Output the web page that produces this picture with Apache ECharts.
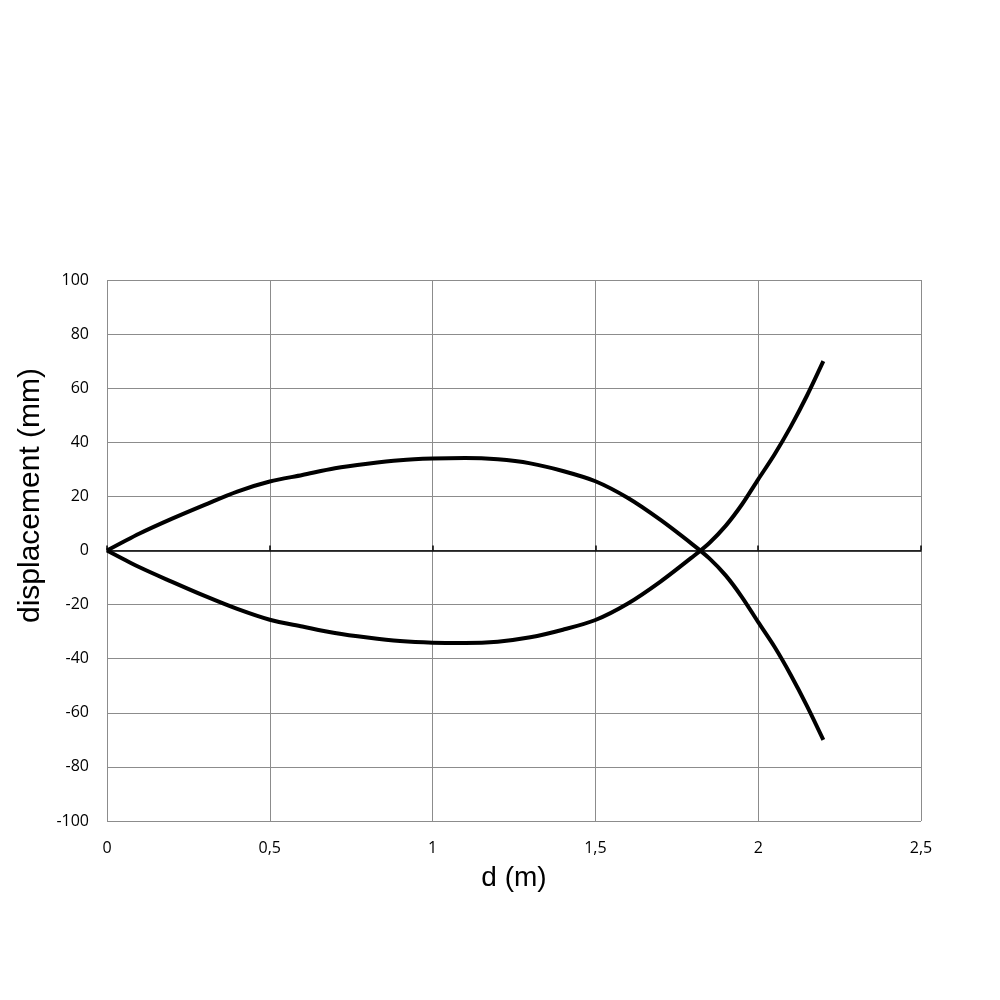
<!DOCTYPE html>
<html>
<head>
<meta charset="utf-8">
<script src="https://cdn.jsdelivr.net/npm/echarts@6/dist/echarts.min.js"></script>
<style>html,body{margin:0;padding:0;background:#fff}#c{width:1000px;height:1000px}</style>
</head>
<body>
<div id="c"></div>
<script>
var dValues = [0, 0.1, 0.2, 0.3, 0.4, 0.5, 0.6, 0.7, 0.8, 0.9, 1.0, 1.1, 1.2, 1.3, 1.4, 1.5, 1.6, 1.7, 1.8, 1.85, 1.9, 1.95, 2.0, 2.05, 2.1, 2.15, 2.2];
var upperCurve = [0, 6.3, 11.8, 16.9, 21.8, 25.5, 27.9, 30.4, 32.1, 33.4, 34.0, 34.2, 33.7, 32.2, 29.4, 25.6, 19.4, 11.3, 2.1, -2.9, -9.2, -17.2, -26.5, -35.6, -46.0, -57.5, -70];
var lowerCurve = [0, -6.2, -11.6, -16.8, -21.6, -25.6, -28.1, -30.5, -32.2, -33.5, -34.1, -34.2, -33.7, -32.1, -29.3, -25.7, -19.6, -11.5, -2.2, 2.8, 9.1, 17.0, 26.3, 35.5, 45.8, 57.3, 70];
var xTicks = {min: 0, max: 2.5, interval: 0.5};
var yTicks = {min: -100, max: 100, interval: 20};

function pairs(xs, ys) { return xs.map(function (x, i) { return [x, ys[i]]; }); }
function comma(v) { return String(v).replace('.', ','); }

var chart = echarts.init(document.getElementById('c'));
chart.setOption({
  animation: false,
  backgroundColor: '#fff',
  grid: {left: 107, right: 79, top: 280, bottom: 179, containLabel: false},
  xAxis: [{
    type: 'value', position: 'bottom',
    min: xTicks.min, max: xTicks.max, interval: xTicks.interval,
    name: 'd (m)', nameLocation: 'middle', nameGap: 43,
    nameTextStyle: {fontFamily: 'Liberation Sans', fontSize: 28, color: '#000'},
    axisLine: {show: false, onZero: false},
    axisTick: {show: false},
    axisLabel: {fontFamily: 'Open Sans', fontSize: 16, color: '#000', margin: 19, formatter: comma},
    splitLine: {show: true, lineStyle: {color: '#8c8c8c', width: 1}}
  }, {
    type: 'value', position: 'top',
    min: xTicks.min, max: xTicks.max, interval: xTicks.interval,
    axisLine: {show: true, onZero: true, lineStyle: {color: '#000', width: 1.5}},
    axisTick: {show: true, inside: false, length: 5, lineStyle: {color: '#000', width: 1.5}},
    axisLabel: {show: false},
    splitLine: {show: false}
  }],
  yAxis: {
    type: 'value',
    min: yTicks.min, max: yTicks.max, interval: yTicks.interval,
    name: 'displacement (mm)', nameLocation: 'middle', nameGap: 60,
    nameTextStyle: {fontFamily: 'Liberation Sans', fontSize: 30, color: '#000', padding: [0, 0, 0, 110]},
    axisLine: {show: false},
    axisTick: {show: false},
    axisLabel: {fontFamily: 'Open Sans', fontSize: 16, color: '#000', margin: 18},
    splitLine: {show: true, lineStyle: {color: '#8c8c8c', width: 1}}
  },
  series: [{
    type: 'line', xAxisIndex: 0, data: pairs(dValues, upperCurve),
    showSymbol: false, smooth: 0.3,
    lineStyle: {color: '#000', width: 4}
  }, {
    type: 'line', xAxisIndex: 0, data: pairs(dValues, lowerCurve),
    showSymbol: false, smooth: 0.3,
    lineStyle: {color: '#000', width: 4}
  }]
});
</script>
</body>
</html>
